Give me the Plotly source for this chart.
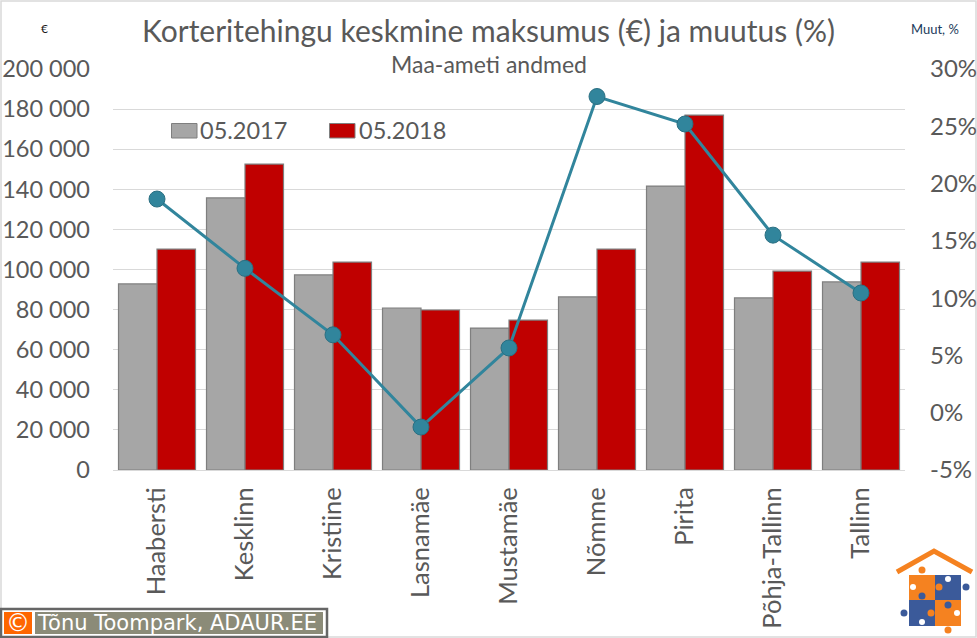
# plot.py — apartment deal price by Tallinn district, bars + change line

import plotly.graph_objects as go

W, H = 977, 638

districts = ["Haabersti", "Kesklinn", "Kristiine", "Lasnamäe", "Mustamäe",
             "Nõmme", "Pirita", "Põhja-Tallinn", "Tallinn"]
price_2017 = [92800, 135700, 97300, 80800, 70800, 86300, 141600, 85800, 93800]
price_2018 = [110200, 152600, 103700, 79800, 74800, 110200, 177000, 99200, 103700]
change_pct = [18.65, 12.6, 6.8, -1.25, 5.65, 27.6, 25.2, 15.5, 10.45]

price_ticks = list(range(0, 200001, 20000))
pct_ticks = [-5, 0, 5, 10, 15, 20, 25, 30]
pct_labels = ["-5%", "0%", "5%", "10%", "15%", "20%", "25%", "30%"]

FONT = "Lato"
TEXT = "#595959"
GRID = "#d9d9d9"
BAR_EDGE = "#7f7f7f"
GREY = "#a6a6a6"
RED = "#c00000"
TEAL = "#31859c"
ORANGE = "#f58220"
BLUE = "#3b5a9a"


def px(x):
    return x / W


def py(y):
    return 1 - y / H


shapes = []
annotations = []


def box(x0, y0, x1, y1, fill, line=None, width=0):
    shapes.append(dict(type="rect", xref="paper", yref="paper",
                       x0=px(x0), x1=px(x1), y0=py(y0), y1=py(y1),
                       fillcolor=fill, layer="above",
                       line=dict(color=line or fill, width=width)))


def dot(x, y, r, fill):
    shapes.append(dict(type="circle", xref="paper", yref="paper",
                       x0=px(x - r), x1=px(x + r), y0=py(y - r), y1=py(y + r),
                       fillcolor=fill, layer="above", line=dict(width=0)))


def label(x, y, text, size, color=TEXT, anchor="left", family=FONT):
    annotations.append(dict(xref="paper", yref="paper", x=px(x), y=py(y),
                            text=text, showarrow=False, xanchor=anchor,
                            yanchor="middle", borderpad=0,
                            font=dict(family=family, size=size, color=color)))


fig = go.Figure()

fig.add_trace(go.Bar(x=districts, y=price_2017, name="05.2017",
                     marker=dict(color=GREY, line=dict(color=BAR_EDGE, width=1.2))))
fig.add_trace(go.Bar(x=districts, y=price_2018, name="05.2018",
                     marker=dict(color=RED, line=dict(color=BAR_EDGE, width=1.2))))
fig.add_trace(go.Scatter(x=districts, y=change_pct, yaxis="y2", mode="lines+markers",
                         name="Muutus", line=dict(color=TEAL, width=3),
                         marker=dict(size=16, color=TEAL,
                                     line=dict(color="#2a6f82", width=1))))

# ── Outer frame and the white block behind the title ─────────────────────────
box(138, 50, 838, 78, "white")
shapes.append(dict(type="rect", xref="paper", yref="paper",
                   x0=px(1), x1=px(976), y0=py(1), y1=py(637),
                   line=dict(color=GRID, width=1.5), layer="below"))

# ── Titles ───────────────────────────────────────────────────────────────────
label(489, 30, "Korteritehingu keskmine maksumus (€) ja muutus (%)", 30, anchor="center")
label(489, 64, "Maa-ameti andmed", 23, anchor="center")
label(44, 29, "€", 12, color="#1a1a1a", anchor="center")
label(935, 29, "Muut, %", 13, color="#1a3a5a", anchor="center")

# ── Legend ───────────────────────────────────────────────────────────────────
box(171.5, 123.5, 197, 138, GREY, BAR_EDGE, 1)
label(199, 130, "05.2017", 23.5)
box(329.5, 123.5, 355, 138, RED, BAR_EDGE, 1)
label(358, 130, "05.2018", 23.5)

# ── Copyright strip ──────────────────────────────────────────────────────────
box(1, 609, 327, 637, "white", "#666666", 2.5)
box(4, 612, 32, 634, "#ff6600")
box(35, 612, 323, 634, "#8b8b78")
label(18, 623, "©", 24, color="white", anchor="center", family="DejaVu Sans")
label(36, 623, "Tõnu Toompark, ADAUR.EE", 21, color="white", family="DejaVu Sans")

# ── Logo ─────────────────────────────────────────────────────────────────────
shapes.append(dict(type="path", xref="paper", yref="paper", layer="above",
                   path=f"M {px(897)} {py(572)} L {px(934)} {py(551)} L {px(972)} {py(572)}",
                   line=dict(color=ORANGE, width=5)))
box(909, 575, 935, 600, ORANGE)
box(935, 575, 961, 600, BLUE)
box(909, 600, 935, 626, BLUE)
box(935, 600, 961, 626, ORANGE)
for x, y, r, c in [(922, 570, 3.5, ORANGE), (913, 587, 3, "white"), (939, 587, 3.5, ORANGE),
                   (948, 579, 3, "white"), (966, 587, 3.5, BLUE), (922, 596, 3.5, BLUE),
                   (904, 613, 3.5, BLUE), (922, 622, 3, "white"), (931, 613, 3.5, ORANGE),
                   (957, 613, 3, "white"), (948, 605, 3.5, BLUE), (948, 630, 3.5, ORANGE)]:
    dot(x, y, r, c)

fig.update_layout(
    width=W, height=H, autosize=False,
    margin=dict(l=0, r=0, t=0, b=0),
    paper_bgcolor="white", plot_bgcolor="white",
    font=dict(family=FONT, color=TEXT),
    separators=". ",
    barmode="group", bargap=0.125, bargroupgap=0,
    showlegend=False,
    shapes=shapes, annotations=annotations,
    xaxis=dict(domain=[px(113), px(905)], type="category", categoryarray=districts,
               range=[-0.5, len(districts) - 0.5],
               tickangle=-90, tickfont=dict(size=25.5), ticks="", ticklabelstandoff=6,
               showline=True, linecolor=GRID, linewidth=1, showgrid=False, automargin=False),
    yaxis=dict(domain=[py(470), py(69)], range=[0, 200000], tickvals=price_ticks,
               tickformat=",d", tickfont=dict(size=23.5), gridcolor=GRID, gridwidth=1,
               ticks="", ticklabelstandoff=22, zeroline=False, automargin=False),
    yaxis2=dict(overlaying="y", side="right", range=[-5, 30], tickvals=pct_ticks,
                ticktext=pct_labels, tickfont=dict(size=24), showgrid=False,
                ticks="", ticklabelstandoff=24, zeroline=False, anchor="x", automargin=False),
)

fig.write_html("out.html", config=dict(displayModeBar=False),
               post_script="document.body.style.margin='0';")
